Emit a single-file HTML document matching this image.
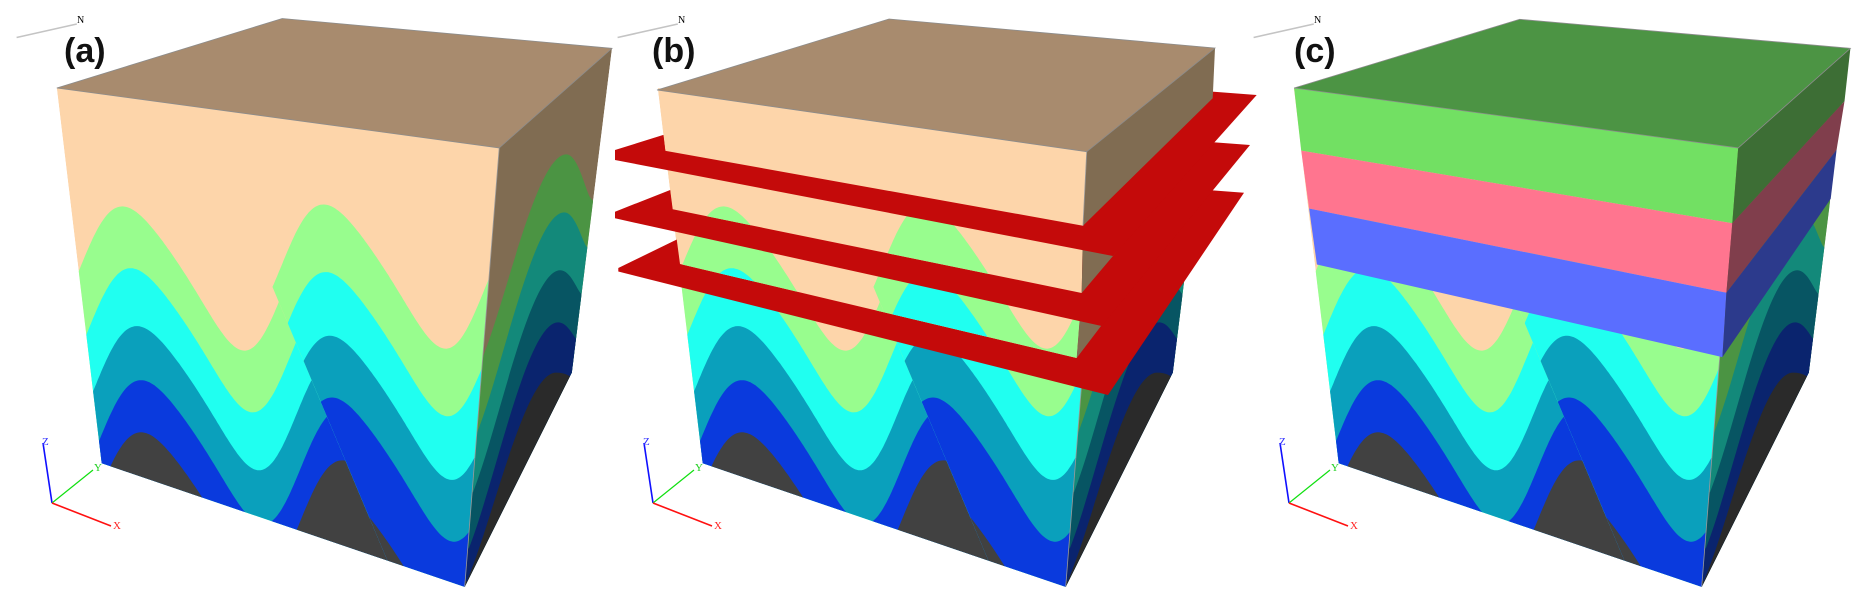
<!DOCTYPE html>
<html><head><meta charset="utf-8">
<style>html,body{margin:0;padding:0;background:#fff;overflow:hidden;width:1866px;height:605px}#c{width:1866px;height:605px;overflow:hidden;position:relative}#c svg{display:block}</style>
</head><body><div id="c"></div>
<script>
const f=n=>n.toFixed(1);
function M1(off){return (x,y)=>[x/2.41+off,y/2.59];}
const M2=(x,y)=>[1250+x/2.54,y/2.59];
const MI=(x,y)=>[x,y];
function pts(arr,M){return arr.map(p=>M(p[0],p[1]).map(f).join(',')).join(' ');}
function pg(arr,M,fill,extra){return `<polygon points="${pts(arr,M)}" fill="${fill}" ${extra||''}/>`;}
function bnd(px,py,x){const t=2*Math.PI*(x-px)/485;const g=t-0.3*(1-Math.cos(t));return py+0.15*(x-px)+165*(1-Math.cos(g));}
function layerPath(px,py,M){let d='';for(let x=100;x<=1250;x+=4){const yy=Math.min(bnd(px,py,x),1560);const p=M(x,yy);d+=(d?'L':'M')+f(p[0])+','+f(p[1]);}const a=M(1250,1560),b=M(100,1560);d+=`L${f(a[0])},${f(a[1])}L${f(b[0])},${f(b[1])}Z`;return d;}
const A=[137,228],B=[680,48],C=[1475,125],D=[1203,383],E=[1120,1520],F=[245,1200],G=[1378,965];
const FF=[A,D,E,F];
const LEFT=[['#98fd8e',300,535],['#20fff0',320,695],['#0aa0bc',335,845],['#0a3add',345,985],['#414141',345,1120]];
const RIGHT=[['#98fd8e',785,530],['#20fff0',790,705],['#0aa0bc',800,870],['#0a3add',805,1030],['#414141',820,1280]];
const FL=[[0,0],[366,0],[976,1560],[0,1560]];
const FR=[[366,0],[1500,0],[1500,1560],[976,1560]];
const RF=[['#4b9443',[1160,935],[1365,400],[1425,515]],['#13897a',[1150,1120],[1360,550],[1415,640]],['#075563',[1140,1275],[1350,700],[1400,760]],['#0a246e',[1130,1420],[1345,835],[1390,880]],['#2a2a2a',[1125,1505],[1340,965],[1385,985]]];
function rfPath(p0,pk,pr,M){const dx=pk[0]-p0[0],dy=pk[1]-p0[1],dx2=pr[0]-pk[0];const q=(x,y)=>M(x,y).map(f).join(',');
return `M${q(p0[0],p0[1])}C${q(p0[0]+0.3*dx,p0[1]+0.3*dy)} ${q(pk[0]-0.35*dx,pk[1])} ${q(pk[0],pk[1])}C${q(pk[0]+0.5*dx2,pk[1])} ${q(pr[0]-0.2*dx2,pr[1]-10)} ${q(pr[0],pr[1])}L${q(1500,pr[1]+100)}L${q(1500,1560)}L${q(1000,1560)}L${q(1000,p0[1])}Z`;}
let defs='';
function mkClips(off,id){const M=M1(off);
defs+=`<clipPath id="ff${id}"><polygon points="${pts(FF,M)}"/></clipPath><clipPath id="fl${id}"><polygon points="${pts(FL,M)}"/></clipPath><clipPath id="fr${id}"><polygon points="${pts(FR,M)}"/></clipPath><clipPath id="rf${id}"><polygon points="${pts([D,C,G,E],M)}"/></clipPath>`;}
function front(off,id){const M=M1(off);
return `<g clip-path="url(#ff${id})"><polygon points="${pts(FF,M)}" fill="#fdd5aa"/><g clip-path="url(#fl${id})">${LEFT.map(l=>`<path d="${layerPath(l[1],l[2],M)}" fill="${l[0]}"/>`).join('')}</g><g clip-path="url(#fr${id})">${RIGHT.map(l=>`<path d="${layerPath(l[1],l[2],M)}" fill="${l[0]}"/>`).join('')}</g></g>`;}
function right(off,id){const M=M1(off);
return `<g clip-path="url(#rf${id})"><polygon points="${pts([D,C,G,E],M)}" fill="#806c52"/>${RF.map(r=>`<path d="${rfPath(r[1],r[2],r[3],M)}" fill="${r[0]}"/>`).join('')}</g><polyline points="${pts([D,E],M)}" fill="none" stroke="#9a9a9a" stroke-width="0.8"/>`;}
function deco(off,lab,loff){
return `<line x1="${16.6+off}" y1="37.5" x2="${76.8+off}" y2="24" stroke="#c4c4c4" stroke-width="1.6"/>
<text x="${77+off}" y="23" font-family="Liberation Serif,serif" font-size="10" fill="#000">N</text>
<text x="${64+loff}" y="62" font-family="Liberation Sans,sans-serif" font-weight="bold" font-size="34" fill="#111">${lab}</text>
<line x1="${52+off}" y1="503" x2="${43+off}" y2="443" stroke="#1010ff" stroke-width="1.6"/>
<line x1="${52+off}" y1="503" x2="${93+off}" y2="470" stroke="#10e010" stroke-width="1.2"/>
<line x1="${52+off}" y1="503" x2="${111+off}" y2="526" stroke="#ff1010" stroke-width="1.6"/>
<text x="${42+off}" y="445" font-family="Liberation Serif,serif" font-size="11" fill="#3030ff">Z</text>
<text x="${94+off}" y="471" font-family="Liberation Serif,serif" font-size="11" fill="#20d020">Y</text>
<text x="${113+off}" y="529" font-family="Liberation Serif,serif" font-size="11" fill="#ff2020">X</text>`;}
let body='';
mkClips(0,'a');
body+=front(0,'a')+right(0,'a')+pg([A,B,C,D],M1(0),'#a88b6e','stroke="#8c8c8c" stroke-width="0.8"')+deco(0,'(a)',0);
const ob=601;mkClips(ob,'b');
const s1=[[657,90],[1086.7,151.7],[1083,225.7],[665,150.7]],
      s2=[[665,150.7],[1083,225.7],[1081.7,293],[672.7,209.3]],
      s3=[[672.7,209.3],[1081.7,293],[1076.7,358],[680,264]];
defs+=`<clipPath id="s1"><polygon points="${pts(s1,MI)}"/></clipPath><clipPath id="s2"><polygon points="${pts(s2,MI)}"/></clipPath><clipPath id="s3"><polygon points="${pts(s3,MI)}"/></clipPath>`;
const red='#c40a0a';
const P1=[[615,150],[615,160],[1113,256],[1256.7,95],[881.7,66.7]],
      P2=[[615,211.7],[615,218.3],[1101.7,326],[1250,145],[859,115.6]],
      P3=[[618.3,268],[618.3,271.5],[1108,395],[1244,192.7],[836,162]];
body+=front(ob,'b')+right(ob,'b');
body+=pg(P3,MI,red);
body+=`<g clip-path="url(#s3)">${front(ob,'b')}</g>`+pg([[1081.7,293],[1212,139],[1212,180],[1076.7,358]],MI,'#806c52');
body+=pg(P2,MI,red);
body+=`<g clip-path="url(#s2)">${front(ob,'b')}</g>`+pg([[1083,225.7],[1212.7,98.3],[1212,139],[1081.7,293]],MI,'#806c52');
body+=pg(P1,MI,red);
body+=`<g clip-path="url(#s1)">${front(ob,'b')}</g>`+pg([[1086.7,151.7],[1215,48],[1212.7,98.3],[1083,225.7]],MI,'#806c52');
body+=pg([[657,90],[889,19],[1215,48],[1086.7,151.7]],MI,'#a88b6e','stroke="#8c8c8c" stroke-width="0.8"');
body+=`<line x1="1086.7" y1="151.7" x2="1083" y2="225.7" stroke="#9a9a9a" stroke-width="0.8"/>`;
body+=deco(ob,'(b)',588);
const oc=1237;mkClips(oc,'c');
body+=front(oc,'c')+right(oc,'c');
body+=pg([[112,228],[1240,383],[1225,578],[130,390]],M2,'#72e063');
body+=pg([[130,390],[1225,578],[1210,758],[150,540]],M2,'#ff758f');
body+=pg([[150,540],[1210,758],[1200,925],[170,685]],M2,'#5a6eff');
body+=pg([[1240,383],[1525,125],[1510,262],[1225,578]],M2,'#3d6e35');
body+=pg([[1225,578],[1510,262],[1490,388],[1210,758]],M2,'#803e4c');
body+=pg([[1210,758],[1490,388],[1475,515],[1200,925]],M2,'#2c3a8c');
body+=pg([[112,228],[685,50],[1525,125],[1240,383]],M2,'#4c9444','stroke="#8c8c8c" stroke-width="0.8"');
body+=deco(oc,'(c)',1230);
defs+=`<clipPath id="root"><rect x="0" y="0" width="1866" height="605"/></clipPath>`;
document.getElementById('c').innerHTML=`<svg xmlns="http://www.w3.org/2000/svg" width="1866" height="605" viewBox="0 0 1866 605" overflow="hidden"><defs>${defs}</defs><g clip-path="url(#root)"><rect width="1866" height="605" fill="#fff"/>${body}</g></svg>`;
</script>
</body></html>
